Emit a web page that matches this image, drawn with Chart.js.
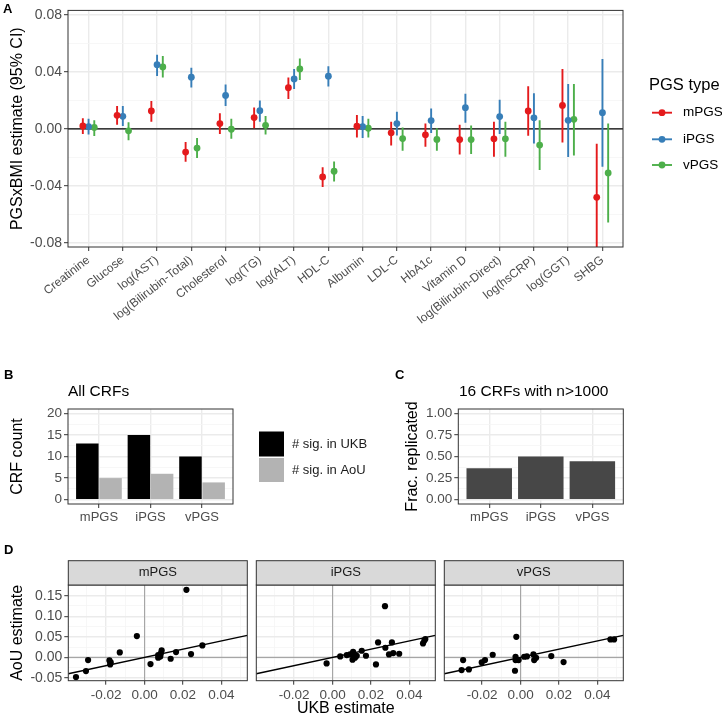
<!DOCTYPE html>
<html>
<head>
<meta charset="utf-8">
<script src="https://cdn.jsdelivr.net/npm/chart.js@4.4.1/dist/chart.umd.min.js"></script>
<style>
  html, body { margin: 0; padding: 0; background: #fff; }
  #wrap { position: relative; width: 722px; height: 718px; overflow: hidden; }
  canvas { position: absolute; left: 0; }
</style>
</head>
<body>
<div id="wrap">
  <canvas id="cA" width="722" height="330" style="top:0px"></canvas>
  <canvas id="cB" width="722" height="200" style="top:330px"></canvas>
  <canvas id="cC" width="722" height="200" style="top:330px"></canvas>
  <canvas id="cD1" width="722" height="188" style="top:530px"></canvas>
  <canvas id="cD2" width="722" height="188" style="top:530px"></canvas>
  <canvas id="cD3" width="722" height="188" style="top:530px"></canvas>
</div>
<script>
// ---- panel A data ----
const crfs = ['Creatinine', 'Glucose', 'log(AST)', 'log(Bilirubin-Total)', 'Cholesterol', 'log(TG)', 'log(ALT)', 'HDL-C',
  'Albumin', 'LDL-C', 'HbA1c', 'Vitamin D', 'log(Bilirubin-Direct)', 'log(hsCRP)', 'log(GGT)', 'SHBG'];
const pgsTypes = ['mPGS', 'iPGS', 'vPGS'];
const mEst = [0.002, 0.0095, 0.0125, -0.0163, 0.0037, 0.0079, 0.0288, -0.0337, 0.0018, -0.0028, -0.0042, -0.0075, -0.007, 0.0125, 0.0164, -0.048];
const mLo  = [-0.0037, 0.0028, 0.005, -0.023, -0.0037, 0.0005, 0.021, -0.0408, -0.006, -0.0116, -0.0125, -0.018, -0.0195, -0.0049, -0.0095, -0.088];
const mHi  = [0.0074, 0.016, 0.0195, -0.0093, 0.011, 0.015, 0.036, -0.0269, 0.0097, 0.005, 0.0037, 0.0028, 0.005, 0.0299, 0.042, -0.0104];
const iEst = [0.0016, 0.0088, 0.045, 0.0362, 0.0234, 0.0127, 0.035, 0.0369, 0.0016, 0.0037, 0.0058, 0.0148, 0.0086, 0.0077, 0.006, 0.0113];
const iLo  = [-0.004, 0.002, 0.037, 0.029, 0.016, 0.005, 0.028, 0.0297, -0.0065, -0.0047, -0.003, 0.0042, -0.0037, -0.0102, -0.0198, -0.0265];
const iHi  = [0.007, 0.016, 0.052, 0.0428, 0.031, 0.0198, 0.042, 0.0438, 0.009, 0.012, 0.0143, 0.0246, 0.0204, 0.025, 0.0315, 0.049];
const vEst = [0.001, -0.0014, 0.0434, -0.0135, -0.0003, 0.0025, 0.042, -0.0297, 0.0004, -0.0068, -0.0074, -0.0075, -0.007, -0.0114, 0.0067, -0.0309];
const vLo  = [-0.005, -0.008, 0.036, -0.0205, -0.007, -0.004, 0.0343, -0.0369, -0.006, -0.0153, -0.0153, -0.0177, -0.0195, -0.0288, -0.0186, -0.0657];
const vHi  = [0.006, 0.0047, 0.051, -0.0065, 0.007, 0.009, 0.0493, -0.0228, 0.007, 0.001, 0.0004, 0.0023, 0.005, 0.006, 0.0315, 0.0037];
const aTicks = [-0.08, -0.04, 0, 0.04, 0.08];

// ---- panel B / C data ----
const sigUKB = [13, 15, 10];
const sigAoU = [5, 6, 4];
const fracRep = [0.364, 0.5, 0.444];

// ---- panel D data (UKB estimate, AoU estimate) ----
const ukbM = [-0.0357, -0.0305, -0.0294, -0.0183, -0.0176, -0.0179, -0.0129, -0.004, 0.0031, 0.0071, 0.0071, 0.0085, 0.0089, 0.0082, 0.0136, 0.0164, 0.0218, 0.0242, 0.0301];
const aouM = [-0.0477, -0.0332, -0.0065, -0.0073, -0.0121, -0.017, 0.0121, 0.0518, -0.0162, -0.0008, 0.0057, 0.0097, 0.017, 0.0024, -0.0032, 0.0129, 0.1642, 0.0081, 0.0291];
const ukbI = [-0.0031, 0.004, 0.0074, 0.0091, 0.0107, 0.0109, 0.0117, 0.0104, 0.0126, 0.0152, 0.0174, 0.0226, 0.0237, 0.0273, 0.0275, 0.0294, 0.0309, 0.0316, 0.0347, 0.0471, 0.0483, 0.0478];
const aouI = [-0.0146, 0.0024, 0.0057, 0.0073, 0.0138, 0.0032, -0.0008, -0.0057, 0.004, 0.0162, 0.004, -0.017, 0.0364, 0.1246, 0.0235, 0.0073, 0.0364, 0.0105, 0.0089, 0.034, 0.0445, 0.041];
const ukbV = [-0.0307, -0.0299, -0.0269, -0.0202, -0.0185, -0.0145, -0.0022, -0.0026, -0.0026, -0.0029, -0.001, 0.0019, 0.0033, 0.0067, 0.0071, 0.0081, 0.016, 0.0224, 0.0468, 0.0487];
const aouV = [-0.0307, -0.0065, -0.0291, -0.0121, -0.0065, 0.0065, 0.0501, 0.0016, -0.0065, -0.0324, -0.0065, 0.0016, 0.0024, 0.0073, -0.0065, -0.0008, 0.0032, -0.0113, 0.0437, 0.0437];

const FONT = '"Liberation Sans", Arial, sans-serif';
Chart.defaults.font.family = FONT;
Chart.defaults.animation = false;
Chart.defaults.plugins.legend.display = false;
Chart.defaults.plugins.tooltip.enabled = false;

const near = (a, b) => Math.abs(a - b) < 1e-9;

// ggplot-like axis: major + minor grid, ticks only on majors
function gridAxis(o) {
  const all = [...o.major, ...o.minor].sort((a, b) => a - b);
  const isMajor = v => o.major.some(m => near(m, v));
  const showTicks = o.showTicks !== false;
  return {
    type: 'linear', min: o.min, max: o.max, offset: false,
    afterBuildTicks: s => { s.ticks = all.map(v => ({ value: v })); },
    afterFit: s => { if (s.isHorizontal()) s.height = o.size; else s.width = o.size; },
    grid: {
      offset: false,
      color: c => (c.tick && isMajor(c.tick.value)) ? '#EBEBEB' : '#F5F5F5',
      lineWidth: c => (c.tick && isMajor(c.tick.value)) ? 1.4 : 0.8,
      drawTicks: showTicks,
      tickLength: 4,
      tickColor: c => (c.tick && isMajor(c.tick.value)) ? '#333333' : 'rgba(0,0,0,0)',
      tickWidth: 1
    },
    border: { display: false },
    ticks: {
      display: showTicks, autoSkip: false, padding: 2, color: '#4D4D4D', font: { size: o.fs || 13 },
      minRotation: o.rot || 0, maxRotation: o.rot || 0,
      callback: v => isMajor(v) ? o.fmt(v) : ''
    },
    title: o.title ? { display: true, text: o.title, color: '#000', font: { size: 16 }, padding: { top: o.tpad || 0, bottom: 0 } } : { display: false }
  };
}

const borderPlugin = {
  id: 'panelBorder',
  afterDatasetsDraw(chart) {
    const { ctx, chartArea: a } = chart;
    ctx.save();
    ctx.strokeStyle = '#333333';
    ctx.lineWidth = 1;
    ctx.strokeRect(a.left, a.top, a.width, a.height);
    ctx.restore();
  }
};

function text(ctx, s, x, y, size, opts = {}) {
  ctx.save();
  ctx.font = (opts.bold ? 'bold ' : '') + size + 'px ' + FONT;
  ctx.fillStyle = opts.color || '#000';
  ctx.textAlign = opts.align || 'left';
  ctx.textBaseline = 'middle';
  ctx.fillText(s, x, y);
  ctx.restore();
}

// ================= Panel A =================
const colors = ['#E41A1C', '#377EB8', '#4DAF4A'];
const dodge = [-0.167, 0, 0.167];
const est = [mEst, iEst, vEst], lo = [mLo, iLo, vLo], hi = [mHi, iHi, vHi];

new Chart(document.getElementById('cA'), {
  type: 'scatter',
  data: {
    datasets: pgsTypes.map((name, k) => ({
      label: name,
      data: est[k].map((y, i) => ({ x: i + 1 + dodge[k], y: y, lo: lo[k][i], hi: hi[k][i] })),
      backgroundColor: colors[k], borderColor: colors[k], pointRadius: 3.4, borderWidth: 0
    }))
  },
  options: {
    responsive: false,
    layout: { padding: { left: 0, right: 99, top: 8, bottom: 0 } },
    scales: {
      x: gridAxis({ min: 0.4, max: 16.6, major: crfs.map((c, i) => i + 1), minor: [], size: 83, rot: 38, fs: 12,
        fmt: v => crfs[Math.round(v) - 1] }),
      y: gridAxis({ min: -0.0828, max: 0.083, major: aTicks, minor: [-0.06, -0.02, 0.02, 0.06], size: 68, fs: 14,
        fmt: v => v.toFixed(2), title: 'PGSxBMI estimate (95% CI)', tpad: 8 })
    }
  },
  plugins: [borderPlugin, {
    id: 'errorBars',
    beforeDatasetsDraw(chart) {
      const { ctx, chartArea: a, scales: { x, y } } = chart;
      ctx.save();
      ctx.beginPath(); ctx.rect(a.left, a.top, a.width, a.height); ctx.clip();
      const y0 = y.getPixelForValue(0);
      ctx.strokeStyle = '#000'; ctx.lineWidth = 1.3;
      ctx.beginPath(); ctx.moveTo(a.left, y0); ctx.lineTo(a.right, y0); ctx.stroke();
      chart.data.datasets.forEach(ds => {
        ctx.strokeStyle = ds.borderColor; ctx.lineWidth = 1.9;
        ds.data.forEach(p => {
          const px = x.getPixelForValue(p.x);
          ctx.beginPath();
          ctx.moveTo(px, y.getPixelForValue(p.lo));
          ctx.lineTo(px, y.getPixelForValue(p.hi));
          ctx.stroke();
        });
      });
      ctx.restore();
    },
    afterDraw(chart) {
      const ctx = chart.ctx;
      text(ctx, 'A', 3, 9, 13, { bold: true });
      text(ctx, 'PGS type', 649, 85, 16.5);
      const rows = [112.7, 139.3, 165];
      pgsTypes.forEach((name, k) => {
        ctx.save();
        ctx.strokeStyle = colors[k]; ctx.lineWidth = 1.9;
        ctx.beginPath(); ctx.moveTo(652, rows[k]); ctx.lineTo(672, rows[k]); ctx.stroke();
        ctx.fillStyle = colors[k];
        ctx.beginPath(); ctx.arc(662, rows[k], 3.4, 0, Math.PI * 2); ctx.fill();
        ctx.restore();
        text(ctx, name, 683, rows[k], 13.5);
      });
    }
  }]
});

// ================= Panel B =================
new Chart(document.getElementById('cB'), {
  type: 'bar',
  data: {
    datasets: [
      { label: '# sig. in UKB', data: sigUKB.map((v, i) => ({ x: i + 1, y: v })), backgroundColor: '#000000' },
      { label: '# sig. in AoU', data: sigAoU.map((v, i) => ({ x: i + 1, y: v })), backgroundColor: '#B3B3B3' }
    ]
  },
  options: {
    responsive: false,
    categoryPercentage: 0.9, barPercentage: 0.97,
    layout: { padding: { left: 0, right: 489, top: 79, bottom: 0 } },
    scales: {
      x: gridAxis({ min: 0.4, max: 3.6, major: [1, 2, 3], minor: [], size: 26, fmt: v => pgsTypes[Math.round(v) - 1] }),
      y: gridAxis({ min: -1, max: 21, major: [0, 5, 10, 15, 20], minor: [2.5, 7.5, 12.5, 17.5], size: 68, fs: 13.5,
        fmt: v => String(v), title: 'CRF count', tpad: 8 })
    }
  },
  plugins: [borderPlugin, {
    id: 'bExtras',
    afterDraw(chart) {
      const ctx = chart.ctx;
      text(ctx, 'B', 4, 45, 13, { bold: true });
      text(ctx, 'All CRFs', 68, 62, 15.5);
      ctx.save();
      ctx.fillStyle = '#000000'; ctx.fillRect(259, 101.5, 25, 25);
      ctx.fillStyle = '#B3B3B3'; ctx.fillRect(259, 128, 25, 24);
      ctx.restore();
      text(ctx, '# sig. in UKB', 292, 114, 13, { color: '#1A1A1A' });
      text(ctx, '# sig. in AoU', 292, 140, 13, { color: '#1A1A1A' });
    }
  }]
});

// ================= Panel C =================
new Chart(document.getElementById('cC'), {
  type: 'bar',
  data: {
    datasets: [{ label: 'Frac. replicated', data: fracRep.map((v, i) => ({ x: i + 1, y: v })), backgroundColor: '#474747' }]
  },
  options: {
    responsive: false,
    categoryPercentage: 0.9, barPercentage: 0.98,
    layout: { padding: { left: 400.3, right: 98.7, top: 79, bottom: 0 } },
    scales: {
      x: gridAxis({ min: 0.4, max: 3.6, major: [1, 2, 3], minor: [], size: 26, fmt: v => pgsTypes[Math.round(v) - 1] }),
      y: gridAxis({ min: -0.05, max: 1.05, major: [0, 0.25, 0.5, 0.75, 1], minor: [0.125, 0.375, 0.625, 0.875], size: 58, fs: 13.5,
        fmt: v => v.toFixed(2), title: 'Frac. replicated', tpad: 3 })
    }
  },
  plugins: [borderPlugin, {
    id: 'cExtras',
    afterDraw(chart) {
      const ctx = chart.ctx;
      text(ctx, 'C', 395, 45, 13, { bold: true });
      text(ctx, '16 CRFs with n>1000', 459, 62, 15.5);
    }
  }]
});

// ================= Panel D =================
const facets = [
  { id: 'cD1', name: 'mPGS', ux: ukbM, ay: aouM, left: 0, right: 474.7, yw: 68.3, first: true },
  { id: 'cD2', name: 'iPGS', ux: ukbI, ay: aouI, left: 256.3, right: 286.7, yw: 0, xtitle: 'UKB estimate' },
  { id: 'cD3', name: 'vPGS', ux: ukbV, ay: aouV, left: 444.3, right: 98.7, yw: 0 }
];

facets.forEach(f => {
  const xAxis = gridAxis({ min: -0.0397, max: 0.0535, major: [-0.02, 0, 0.02, 0.04], minor: [-0.03, -0.01, 0.01, 0.03, 0.05],
    size: 37.3, fs: 13.5, fmt: v => v.toFixed(2), title: f.xtitle, tpad: 0 });
  const yAxis = gridAxis({ min: -0.0566, max: 0.176, major: [-0.05, 0, 0.05, 0.10, 0.15], minor: [-0.025, 0.025, 0.075, 0.125, 0.175],
    size: f.yw, fs: 14, fmt: v => v.toFixed(2), showTicks: !!f.first, title: f.first ? 'AoU estimate' : null, tpad: 8 });
  new Chart(document.getElementById(f.id), {
    type: 'scatter',
    data: {
      datasets: [{ label: f.name, data: f.ux.map((x, i) => ({ x: x, y: f.ay[i] })), backgroundColor: '#000', pointRadius: 3.1, borderWidth: 0 }]
    },
    options: {
      responsive: false,
      layout: { padding: { left: f.left, right: f.right, top: 55, bottom: 0 } },
      scales: { x: xAxis, y: yAxis }
    },
    plugins: [borderPlugin, {
      id: 'dExtras',
      beforeDatasetsDraw(chart) {
        const { ctx, chartArea: a, scales: { x, y } } = chart;
        ctx.save();
        ctx.beginPath(); ctx.rect(a.left, a.top, a.width, a.height); ctx.clip();
        ctx.strokeStyle = '#A6A6A6'; ctx.lineWidth = 1.1;
        const x0 = x.getPixelForValue(0), y0 = y.getPixelForValue(0);
        ctx.beginPath(); ctx.moveTo(x0, a.top); ctx.lineTo(x0, a.bottom); ctx.stroke();
        ctx.beginPath(); ctx.moveTo(a.left, y0); ctx.lineTo(a.right, y0); ctx.stroke();
        // identity line y = x
        ctx.strokeStyle = '#000'; ctx.lineWidth = 1.3;
        ctx.beginPath();
        ctx.moveTo(x.getPixelForValue(x.min), y.getPixelForValue(x.min));
        ctx.lineTo(x.getPixelForValue(x.max), y.getPixelForValue(x.max));
        ctx.stroke();
        ctx.restore();
      },
      afterDraw(chart) {
        const { ctx, chartArea: a } = chart;
        ctx.save();
        ctx.fillStyle = '#D9D9D9';
        ctx.fillRect(a.left, 30.7, a.width, a.top - 30.7);
        ctx.strokeStyle = '#333333'; ctx.lineWidth = 1;
        ctx.strokeRect(a.left, 30.7, a.width, a.top - 30.7);
        ctx.restore();
        text(ctx, f.name, (a.left + a.right) / 2, (30.7 + a.top) / 2, 13, { align: 'center', color: '#1A1A1A' });
        if (f.first) text(ctx, 'D', 4, 20, 13, { bold: true });
      }
    }]
  });
});
</script>
</body>
</html>
